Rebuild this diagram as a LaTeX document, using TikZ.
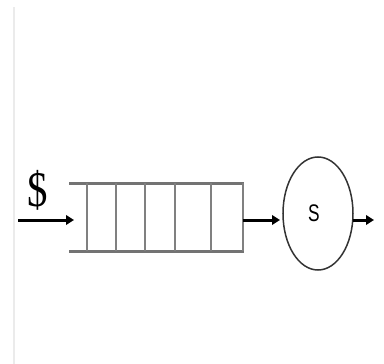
\documentclass[tikz,border=0pt]{standalone}
\usepackage{fontspec}
\setmainfont{Liberation Serif}
\newfontfamily\labelsans{Liberation Sans}
\usetikzlibrary{arrows.meta,shapes.geometric}
\begin{document}
\begin{tikzpicture}[x=1pt,y=-1pt,
  flow/.style={line width=3pt,-{Triangle[length=8pt,width=9.5pt]}},
  rail/.style={line width=3pt,draw=black!55},
  slot/.style={line width=1.8pt,draw=black!50},
  server/.style={ellipse,draw=black!80,line width=1.5pt,minimum width=70pt,minimum height=113pt,inner sep=0pt}]
  \useasboundingbox (0,0) rectangle (384,364);
  % margin rule
  \draw[line width=2pt,black!8] (13.5,7) -- (13.5,364);
  % queue buffer
  \coordinate (qtl) at (69,183);
  \coordinate (qtr) at (244,183);
  \coordinate (qbl) at (69,251);
  \coordinate (qbr) at (244,251);
  \draw[rail] (qtl) -- (qtr);
  \draw[rail] (qbl) -- (qbr);
  \foreach \x in {87,116,145,175,211,243}
    \draw[slot] (\x,183) -- (\x,251);
  % server
  \node[server] (srv) at (318,213.5) {};
  \node[anchor=base,xscale=0.72,font=\labelsans\fontsize{24}{24}\selectfont] (slabel) at (314,222) {S};
  % arrivals
  \node[anchor=base,xscale=0.85,yscale=1.04,font=\fontsize{48}{48}\selectfont] (cost) at (38,206) {\$};
  \coordinate (src) at (18,220);
  \coordinate (qin) at (74,220);
  \coordinate (qout) at (243,220);
  \coordinate (sin) at (280,220);
  \coordinate (sout) at (352.5,220);
  \coordinate (sink) at (374,220);
  \draw[flow] (src) -- (qin);
  \draw[flow] (qout) -- (sin);
  \draw[flow] (sout) -- (sink);
\end{tikzpicture}
\end{document}
